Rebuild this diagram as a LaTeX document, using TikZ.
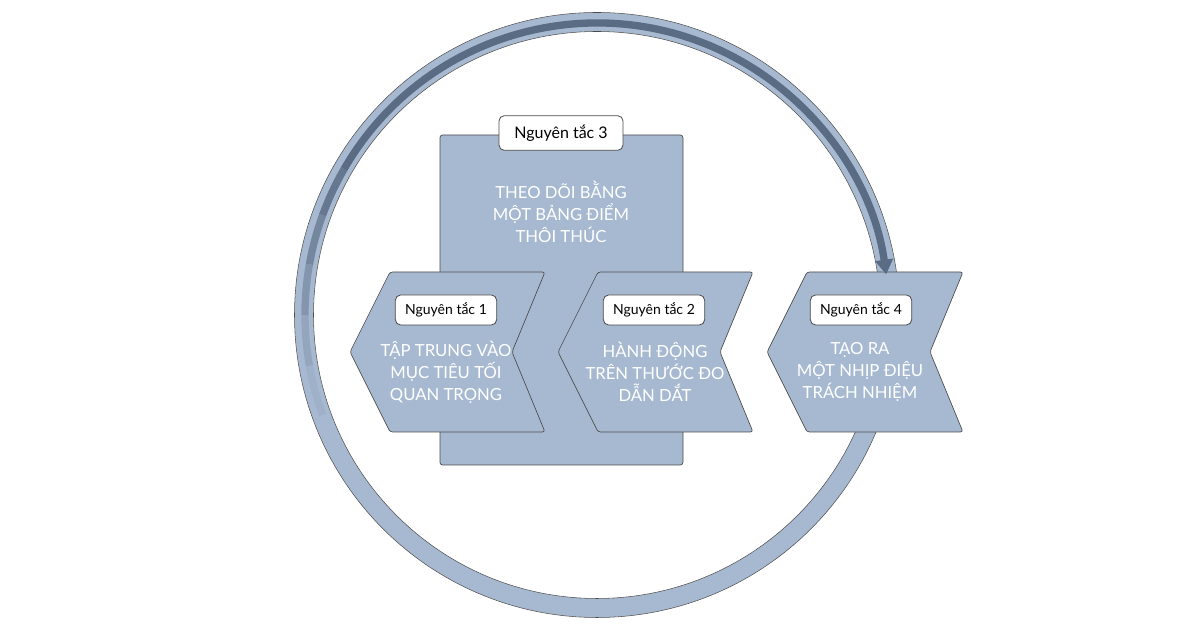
\documentclass[tikz,border=0pt]{standalone}
\usepackage{fontspec}
\setmainfont{Lato}
\usetikzlibrary{arrows.meta}
\definecolor{fillb}{HTML}{A7B9D1}
\definecolor{darkb}{HTML}{5A6C84}
\definecolor{edge}{HTML}{4A4A4A}
\begin{document}
\begin{tikzpicture}[x=0.75pt,y=0.75pt,
  shp/.style={fill=fillb,draw=edge,line width=0.5pt,rounded corners=2pt},
  lbl/.style={draw=edge,fill=white,rounded corners=4pt,line width=0.6pt,font=\fontsize{10.5}{12}\selectfont,minimum height=22.5pt,inner xsep=5pt},
  body/.style={text=white,align=center,font=\fontsize{12.5}{16.5}\selectfont}]
\useasboundingbox (0,0) rectangle (1200,630);
\fill[white] (0,0) rectangle (1200,630);
% ring
\coordinate (c) at (597,315);
\draw[fillb,line width=14pt] (c) circle[radius=293];
\draw[edge,line width=0.4pt] (c) circle[radius=302.5];
\draw[edge,line width=0.4pt] (c) circle[radius=283.5];
% principle 3
\draw[shp] (440,165) rectangle (683,495);
\node[lbl,font=\fontsize{12}{14}\selectfont,minimum height=26pt,minimum width=93pt] (l3) at (561,497) {Nguyên tắc 3};
\node[body] (t3) at (561,418) {THEO DÕI BẰNG\\MỘT BẢNG ĐIỂM\\THÔI THÚC};
% chevrons
\draw[shp] (350,278) -- (390,358) -- (545,358) -- (512,278) -- (545,198) -- (390,198) -- cycle;
\draw[shp] (558,278) -- (598,358) -- (753,358) -- (720,278) -- (753,198) -- (598,198) -- cycle;
\draw[shp] (767,278) -- (807,358) -- (963,358) -- (930,278) -- (963,198) -- (807,198) -- cycle;
\node[lbl,minimum width=76pt] (l1) at (446,320) {Nguyên tắc 1};
\node[lbl,minimum width=76pt] (l2) at (654,320) {Nguyên tắc 2};
\node[lbl,minimum width=76pt] (l4) at (861,320) {Nguyên tắc 4};
\node[body] (t1) at (446,258) {TẬP TRUNG VÀO\\MỤC TIÊU TỐI\\QUAN TRỌNG};
\node[body] (t2) at (655,258) {HÀNH ĐỘNG\\TRÊN THƯỚC ĐO\\DẪN DẮT};
\node[body] (t4) at (860,258) {TẠO RA\\MỘT NHỊP ĐIỆU\\TRÁCH NHIỆM};
% dark arrow with fading start
\foreach \a/\s in {200/10,190/25,180/45,170/65,160/85}{
  \pgfmathsetmacro\b{\a-10}
  \draw[darkb!\s!fillb,line width=5.5pt] ([shift={(\a:292)}]c) arc[start angle=\a,end angle=\b,radius=292];
}
\draw[darkb,line width=5.5pt,-{Triangle[length=11pt,width=13pt]}] ([shift={(150:292)}]c) arc[start angle=150,end angle=8,radius=292];
\end{tikzpicture}
\end{document}
